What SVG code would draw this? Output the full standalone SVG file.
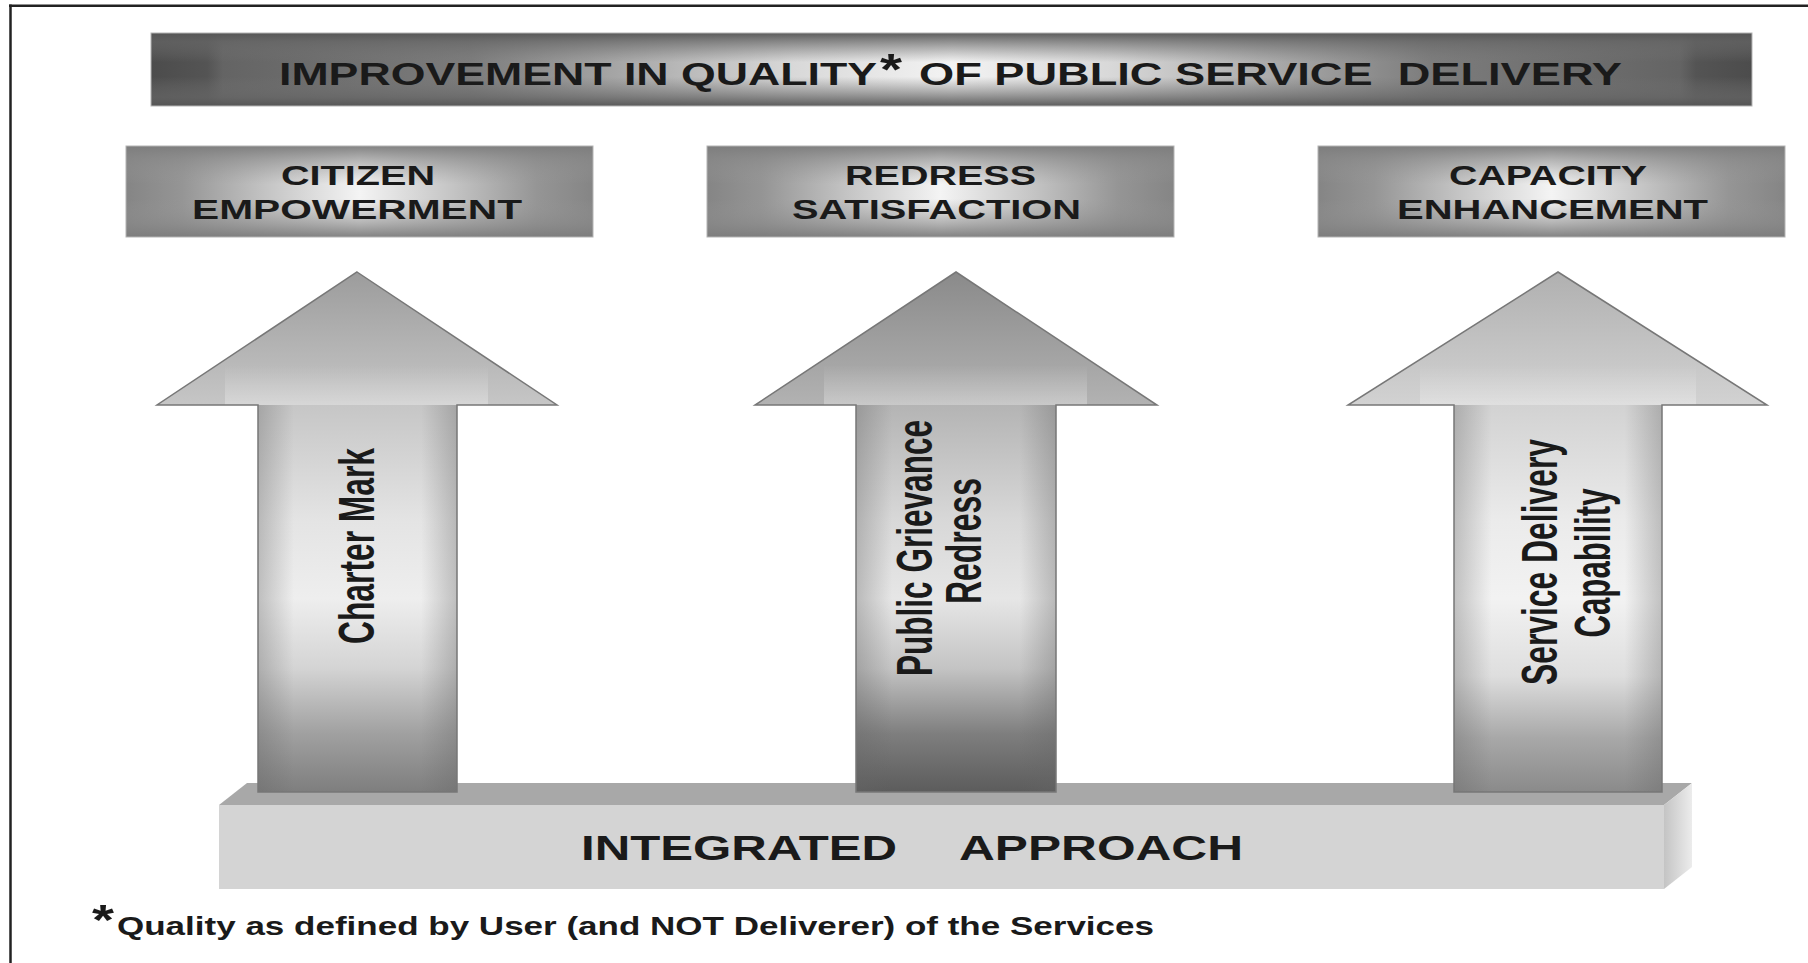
<svg xmlns="http://www.w3.org/2000/svg" width="1808" height="963" viewBox="0 0 1808 963">
<defs>
<style>
text{font-family:"Liberation Sans",Arial,"DejaVu Sans",sans-serif;font-weight:bold;fill:#1a1a1a;white-space:pre}
.frame{stroke:#222;stroke-width:2.5;fill:none}
.outline{fill:none;stroke:#777;stroke-width:1.5;stroke-linejoin:miter}
.boxedge{fill:none;stroke:#b4b4b4;stroke-width:1}
</style>
<linearGradient id="titleH" x1="0" y1="0" x2="1" y2="0">
<stop offset="0" stop-color="#4c4c4c"/><stop offset="0.035" stop-color="#545454"/><stop offset="0.045" stop-color="#646464"/>
<stop offset="0.2" stop-color="#7c7c7c"/><stop offset="0.4" stop-color="#d8d8d8"/><stop offset="0.5" stop-color="#f3f3f3"/>
<stop offset="0.6" stop-color="#d8d8d8"/><stop offset="0.8" stop-color="#7c7c7c"/><stop offset="0.955" stop-color="#646464"/>
<stop offset="0.965" stop-color="#545454"/><stop offset="1" stop-color="#4c4c4c"/>
</linearGradient>
<linearGradient id="titleV" x1="0" y1="0" x2="0" y2="1">
<stop offset="0" stop-color="#555" stop-opacity="0.95"/><stop offset="0.12" stop-color="#666" stop-opacity="0.7"/>
<stop offset="0.4" stop-color="#777" stop-opacity="0"/><stop offset="0.6" stop-color="#777" stop-opacity="0"/>
<stop offset="0.88" stop-color="#666" stop-opacity="0.7"/><stop offset="1" stop-color="#555" stop-opacity="0.95"/>
</linearGradient>
<linearGradient id="boxH" x1="0" y1="0" x2="1" y2="0">
<stop offset="0" stop-color="#858585"/><stop offset="0.12" stop-color="#959595"/><stop offset="0.3" stop-color="#c4c4c4"/>
<stop offset="0.5" stop-color="#f4f4f4"/><stop offset="0.7" stop-color="#c4c4c4"/><stop offset="0.88" stop-color="#959595"/>
<stop offset="1" stop-color="#858585"/>
</linearGradient>
<linearGradient id="boxV" x1="0" y1="0" x2="0" y2="1">
<stop offset="0" stop-color="#7c7c7c" stop-opacity="0.95"/><stop offset="0.15" stop-color="#888" stop-opacity="0.6"/>
<stop offset="0.42" stop-color="#999" stop-opacity="0"/><stop offset="0.58" stop-color="#999" stop-opacity="0"/>
<stop offset="0.85" stop-color="#888" stop-opacity="0.6"/><stop offset="1" stop-color="#7c7c7c" stop-opacity="0.95"/>
</linearGradient>
<linearGradient id="head1" x1="0" y1="0" x2="0" y2="1"><stop offset="0" stop-color="#9c9c9c"/><stop offset="1" stop-color="#c6c6c6"/></linearGradient>
<linearGradient id="head2" x1="0" y1="0" x2="0" y2="1"><stop offset="0" stop-color="#8a8a8a"/><stop offset="1" stop-color="#b2b2b2"/></linearGradient>
<linearGradient id="head3" x1="0" y1="0" x2="0" y2="1"><stop offset="0" stop-color="#b0b0b0"/><stop offset="1" stop-color="#d2d2d2"/></linearGradient>
<linearGradient id="shaft1" x1="0" y1="0" x2="0" y2="1">
<stop offset="0" stop-color="#c6c6c6"/><stop offset="0.3" stop-color="#e4e4e4"/><stop offset="0.5" stop-color="#eeeeee"/>
<stop offset="0.68" stop-color="#d4d4d4"/><stop offset="0.85" stop-color="#a0a0a0"/><stop offset="1" stop-color="#7e7e7e"/>
</linearGradient>
<linearGradient id="shaft2" x1="0" y1="0" x2="0" y2="1">
<stop offset="0" stop-color="#b4b4b4"/><stop offset="0.3" stop-color="#d8d8d8"/><stop offset="0.5" stop-color="#e6e6e6"/>
<stop offset="0.68" stop-color="#c4c4c4"/><stop offset="0.85" stop-color="#7e7e7e"/><stop offset="1" stop-color="#5c5c5c"/>
</linearGradient>
<linearGradient id="shaft3" x1="0" y1="0" x2="0" y2="1">
<stop offset="0" stop-color="#d2d2d2"/><stop offset="0.3" stop-color="#ebebeb"/><stop offset="0.5" stop-color="#f2f2f2"/>
<stop offset="0.7" stop-color="#dedede"/><stop offset="0.86" stop-color="#a8a8a8"/><stop offset="1" stop-color="#8a8a8a"/>
</linearGradient>
<linearGradient id="shaftEdge" x1="0" y1="0" x2="1" y2="0">
<stop offset="0" stop-color="#666" stop-opacity="0.35"/><stop offset="0.18" stop-color="#666" stop-opacity="0"/>
<stop offset="0.82" stop-color="#666" stop-opacity="0"/><stop offset="1" stop-color="#666" stop-opacity="0.35"/>
</linearGradient>
<linearGradient id="band" x1="0" y1="0" x2="0" y2="1">
<stop offset="0" stop-color="#fff" stop-opacity="0"/><stop offset="1" stop-color="#fff" stop-opacity="0.3"/>
</linearGradient>
<linearGradient id="side" x1="0" y1="0" x2="1" y2="0">
<stop offset="0" stop-color="#c4c4c4"/><stop offset="1" stop-color="#ececec"/>
</linearGradient>
</defs>

<rect width="1808" height="963" fill="#fff"/>
<g id="frame">
<line class="frame" x1="9" y1="5.7" x2="1808" y2="5.7"/>
<line class="frame" x1="10.5" y1="4.5" x2="10.5" y2="963"/>
</g>

<g id="title">
<rect x="151" y="33" width="1601" height="73" fill="url(#titleH)"/>
<rect x="151" y="33" width="1601" height="73" fill="url(#titleV)"/>
<rect x="151" y="33" width="1601" height="73" class="boxedge"/>
<text x="279" y="85" font-size="31" textLength="598" lengthAdjust="spacingAndGlyphs">IMPROVEMENT IN QUALITY</text>
<text x="880" y="85" font-size="44" textLength="22" lengthAdjust="spacingAndGlyphs">*</text>
<text x="919" y="85" font-size="31" textLength="703" lengthAdjust="spacingAndGlyphs">OF PUBLIC SERVICE  DELIVERY</text>
</g>

<g id="box-citizen">
<rect x="126" y="146" width="467" height="91" fill="url(#boxH)"/>
<rect x="126" y="146" width="467" height="91" fill="url(#boxV)"/>
<rect x="126" y="146" width="467" height="91" class="boxedge"/>
<text x="281" y="185" font-size="27" textLength="154" lengthAdjust="spacingAndGlyphs">CITIZEN</text>
<text x="192" y="218.5" font-size="27" textLength="330" lengthAdjust="spacingAndGlyphs">EMPOWERMENT</text>
</g>

<g id="box-redress">
<rect x="707" y="146" width="467" height="91" fill="url(#boxH)"/>
<rect x="707" y="146" width="467" height="91" fill="url(#boxV)"/>
<rect x="707" y="146" width="467" height="91" class="boxedge"/>
<text x="845" y="185" font-size="27" textLength="191" lengthAdjust="spacingAndGlyphs">REDRESS</text>
<text x="792" y="218.5" font-size="27" textLength="289" lengthAdjust="spacingAndGlyphs">SATISFACTION</text>
</g>

<g id="box-capacity">
<rect x="1318" y="146" width="467" height="91" fill="url(#boxH)"/>
<rect x="1318" y="146" width="467" height="91" fill="url(#boxV)"/>
<rect x="1318" y="146" width="467" height="91" class="boxedge"/>
<text x="1449" y="185" font-size="27" textLength="198" lengthAdjust="spacingAndGlyphs">CAPACITY</text>
<text x="1397" y="218.5" font-size="27" textLength="311" lengthAdjust="spacingAndGlyphs">ENHANCEMENT</text>
</g>

<g id="base-integrated-approach">
<polygon points="247,783 1692,783 1664,805 219,805" fill="#a8a8a8"/>
<polygon points="1664,805 1692,783 1692,867 1664,889" fill="url(#side)"/>
<rect x="219" y="805" width="1445" height="84" fill="#d4d4d4"/>
<text x="581" y="860" font-size="35" textLength="316" lengthAdjust="spacingAndGlyphs">INTEGRATED</text>
<text x="959" y="860" font-size="35" textLength="284" lengthAdjust="spacingAndGlyphs">APPROACH</text>
</g>

<g id="connectors">
<g id="arrow-charter-mark">
<polygon points="357,272 557,405 157,405" fill="url(#head1)"/>
<rect x="225" y="365" width="263" height="40" fill="url(#band)"/>
<rect x="258" y="405" width="199" height="387" fill="url(#shaft1)"/>
<rect x="258" y="405" width="199" height="387" fill="url(#shaftEdge)"/>
<polygon class="outline" points="357,272 557,405 457,405 457,792 258,792 258,405 157,405"/>
<text transform="translate(374,546) scale(1.45,1) rotate(-90)" font-size="34" text-anchor="middle" textLength="196" lengthAdjust="spacingAndGlyphs">Charter Mark</text>
</g>
<g id="arrow-public-grievance">
<polygon points="956,272 1157,405 755,405" fill="url(#head2)"/>
<rect x="824" y="365" width="263" height="40" fill="url(#band)"/>
<rect x="856" y="405" width="200" height="387" fill="url(#shaft2)"/>
<rect x="856" y="405" width="200" height="387" fill="url(#shaftEdge)"/>
<polygon class="outline" points="956,272 1157,405 1056,405 1056,792 856,792 856,405 755,405"/>
<text transform="translate(932,548) scale(1.45,1) rotate(-90)" font-size="34" text-anchor="middle" textLength="256" lengthAdjust="spacingAndGlyphs">Public Grievance</text>
<text transform="translate(981,541) scale(1.45,1) rotate(-90)" font-size="34" text-anchor="middle" textLength="126" lengthAdjust="spacingAndGlyphs">Redress</text>
</g>
<g id="arrow-service-delivery">
<polygon points="1558,272 1767,405 1348,405" fill="url(#head3)"/>
<rect x="1420" y="365" width="276" height="40" fill="url(#band)"/>
<rect x="1454" y="405" width="208" height="387" fill="url(#shaft3)"/>
<rect x="1454" y="405" width="208" height="387" fill="url(#shaftEdge)"/>
<polygon class="outline" points="1558,272 1767,405 1662,405 1662,792 1454,792 1454,405 1348,405"/>
<text transform="translate(1557,562) scale(1.45,1) rotate(-90)" font-size="34" text-anchor="middle" textLength="246" lengthAdjust="spacingAndGlyphs">Service Delivery</text>
<text transform="translate(1610,563) scale(1.45,1) rotate(-90)" font-size="34" text-anchor="middle" textLength="149" lengthAdjust="spacingAndGlyphs">Capability</text>
</g>
</g>

<g id="footnote">
<text x="92" y="934" font-size="42" textLength="22" lengthAdjust="spacingAndGlyphs">*</text>
<text x="117" y="935" font-size="26" textLength="1037" lengthAdjust="spacingAndGlyphs">Quality as defined by User (and NOT Deliverer) of the Services</text>
</g>
</svg>
